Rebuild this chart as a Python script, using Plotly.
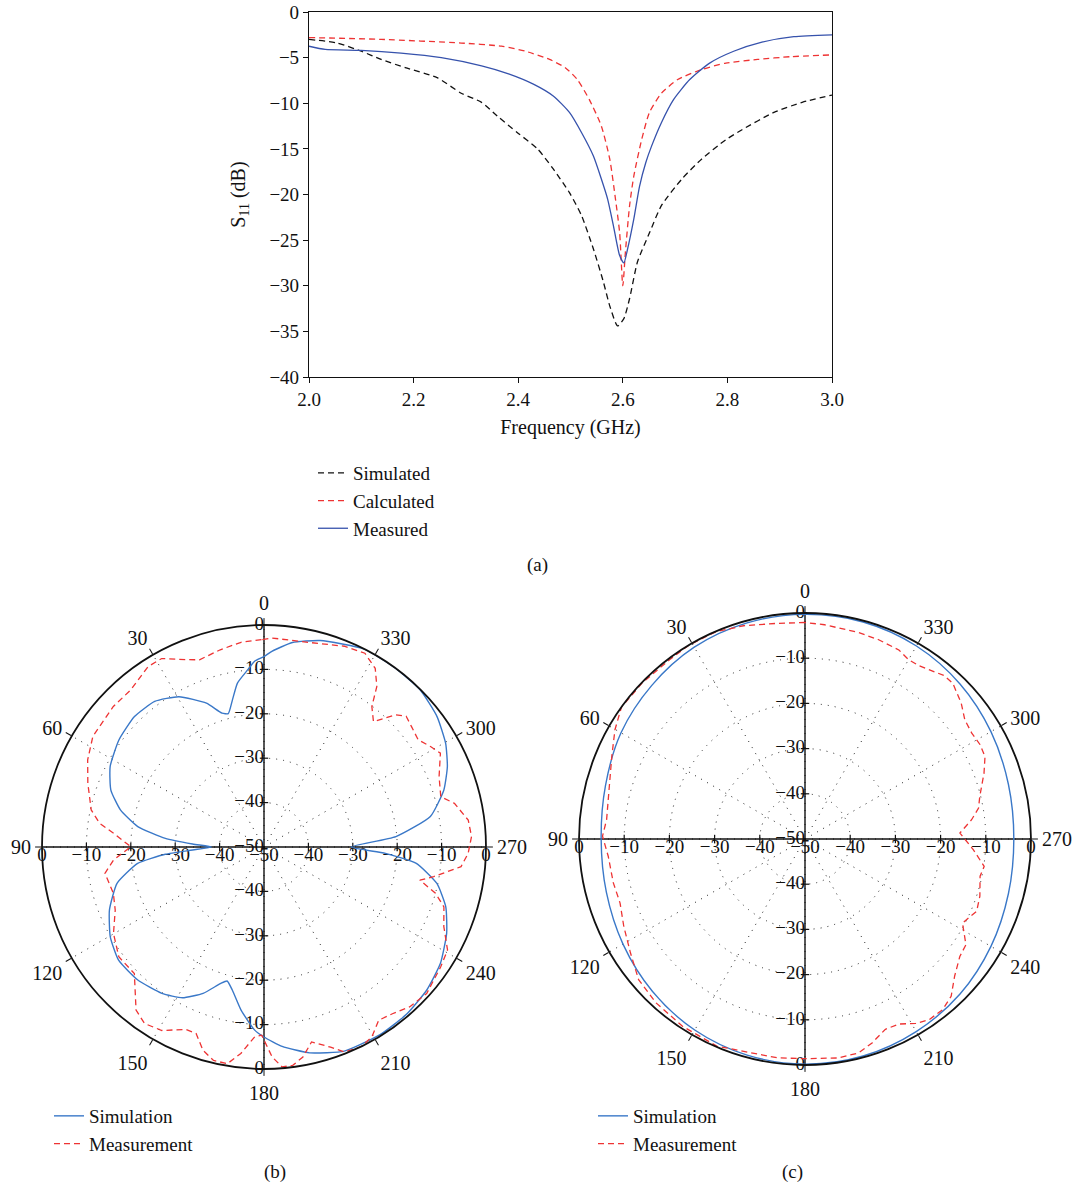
import plotly.graph_objects as go

# ---------------- (a) S11 vs frequency ----------------
sim_f = [2.0, 2.054, 2.1, 2.138, 2.184, 2.245, 2.291, 2.33, 2.36, 2.398, 2.437, 2.467, 2.498, 2.521,
         2.544, 2.563, 2.575, 2.59, 2.602, 2.613, 2.628, 2.651, 2.674, 2.713, 2.751, 2.797, 2.828,
         2.889, 2.943, 3.0]
sim_db = [-3.0, -3.4, -4.3, -5.2, -6.1, -7.2, -8.9, -9.9, -11.4, -13.2, -15.0, -17.2, -19.8, -22.3,
          -26.0, -29.6, -32.2, -34.4, -33.6, -31.4, -27.4, -24.2, -21.2, -18.3, -16.1, -14.0, -12.9,
          -11.0, -9.9, -9.1]

calc_f = [2.0, 2.138, 2.291, 2.368, 2.414, 2.46, 2.49, 2.513, 2.536, 2.559, 2.575, 2.586, 2.594, 2.6,
          2.605, 2.613, 2.621, 2.636, 2.651, 2.674, 2.705, 2.751, 2.797, 2.858, 2.92, 3.0]
calc_db = [-2.8, -3.0, -3.4, -3.75, -4.3, -5.2, -6.1, -7.4, -9.6, -12.5, -16.1, -20.5, -24.2, -30.0,
           -26.3, -21.2, -18.0, -14.0, -11.0, -8.9, -7.4, -6.3, -5.6, -5.2, -4.9, -4.7]

meas_f = [2.0, 2.031, 2.1, 2.176, 2.253, 2.33, 2.383, 2.429, 2.467, 2.498, 2.521, 2.544, 2.559, 2.571,
          2.582, 2.594, 2.602, 2.609, 2.621, 2.632, 2.644, 2.655, 2.674, 2.697, 2.728, 2.766, 2.812,
          2.866, 2.927, 3.0]
meas_db = [-3.75, -4.1, -4.2, -4.5, -5.0, -5.9, -6.8, -7.9, -9.2, -11.0, -13.2, -15.8, -18.3, -20.5,
           -23.4, -26.7, -27.5, -26.0, -22.7, -19.1, -16.5, -14.7, -12.1, -9.6, -7.4, -5.6, -4.3,
           -3.3, -2.7, -2.5]

x_ticks = [2.0, 2.2, 2.4, 2.6, 2.8, 3.0]
y_ticks = [0, -5, -10, -15, -20, -25, -30, -35, -40]

# ---------------- (b) radiation pattern ----------------
b_sim_theta = [0, 2.9, 5.2, 9.2, 12.1, 15.0, 17.4, 21.8, 29.5, 36.9, 44.8, 53.6, 62.4, 69.6, 75.5,
               80.8, 85.0, 87.6, 90, 92.4, 94.2, 97.4, 103.9, 112.2, 120.3, 127.9, 136.5, 145.1,
               151.6, 157.4, 162.3, 164.6, 167.5, 172, 177.1, 180, 185.2, 192.5, 201.5, 211.6,
               220.5, 228.7, 236.6, 244.7, 251.8, 258.1, 263.9, 267, 270, 274.5, 280.4, 287.6,
               293.7, 299.7, 307, 315.2, 323.9, 333.1, 344.8, 352.1, 357.7, 360]
b_sim_r = [-7.1, -8.1, -9.9, -12.6, -16.1, -18.9, -18.4, -15.1, -11.1, -9.0, -8.6, -9.4, -10.9,
           -13.2, -16.6, -21.2, -27.7, -33.9, -38.2, -33.9, -27.7, -21.3, -15.9, -12.4, -9.9, -8.5,
           -8.7, -9.8, -11.4, -14.3, -17.7, -18.7, -17.0, -12.9, -8.7, -7.2, -4.9, -2.5, -0.6,
           -0.3, -0.5, -1.2, -2.4, -4.5, -6.9, -10.2, -15.5, -22.6, -30.4, -20.2, -11.9, -7.5,
           -4.9, -2.9, -1.2, -0.1, 0.0, 0.0, -1.8, -3.5, -5.9, -7.1]

b_meas_theta = [0.7, 6.4, 12.5, 19.0, 22.6, 28.5, 32.7, 40.3, 47.0, 57.1, 63.7, 70.1, 77.9, 81.8,
                84.8, 89.9, 94.9, 99.4, 107.1, 113.0, 119.9, 127.1, 134.3, 141.9, 145.9, 150.9,
                156.8, 160.0, 163.3, 166.7, 170.4, 173.6, 177.2, 179.3, 182.2, 184.7, 187.5, 190.5,
                193.7, 198.4, 201.4, 206.0, 209.6, 213.5, 217.6, 222.3, 228.0, 235.8, 240.7, 246.1,
                251.6, 254.9, 258.0, 260.1, 264.3, 268.2, 272.9, 277.5, 282.9, 285.9, 291.9, 298.0,
                301.1, 304.8, 309.3, 312.6, 315.1, 318.9, 322.5, 324.9, 328.1, 332.5, 338.2, 347.4,
                357.8, 360.7]
b_meas_r = [-3.3, -3.6, -4.5, -5.4, -4.3, -1.7, -1.7, -3.6, -3.6, -4.1, -5.7, -7.8, -10.2, -12.6,
            -16.0, -20.0, -16.0, -13.7, -14.5, -13.6, -10.9, -9.0, -9.2, -3.3, -2.0, -2.7, -5.3,
            -5.3, -2.2, -0.6, -0.5, -3.2, -7.2, -7.6, -2.7, -0.3, -0.4, -1.9, -4.8, -2.5, -0.4,
            0.0, -0.8, -3.2, -2.6, -1.3, -0.7, -1.9, -2.6, -5.7, -7.3, -10.0, -14.1, -11.2, -5.4,
            -4.0, -3.2, -3.6, -6.0, -8.6, -7.5, -5.0, -6.2, -7.7, -7.1, -6.5, -8.0, -12.5, -10.1,
            -5.8, -2.6, -0.8, -1.3, -2.8, -2.9, -3.3]

# ---------------- (c) radiation pattern ----------------
c_sim_theta = [0, 15, 30, 45, 60, 75, 90, 105, 120, 135, 150, 165, 180, 195, 210, 225, 240, 255,
               270, 285, 300, 315, 330, 345, 360]
c_sim_r = [-0.3, -0.5, -1.0, -2.0, -3.0, -4.3, -4.9, -4.5, -3.5, -2.3, -1.2, -0.5, -0.2, -0.3,
           -0.8, -1.5, -2.5, -3.4, -3.8, -3.4, -2.5, -1.5, -0.7, -0.3, -0.3]

c_meas_theta = [0, 7.3, 16.1, 23.1, 30.8, 37.1, 46.2, 54.3, 60.1, 66.8, 75.9, 84.4, 89.2, 95.0,
                102.9, 109.1, 115.7, 123.1, 130.2, 137.7, 146.8, 156.9, 165.6, 172.8, 180, 188.6,
                194.0, 198.2, 202.9, 206.9, 211.0, 214.5, 218.9, 222.9, 227.5, 232.8, 236.7, 241.9,
                247.2, 251.9, 258.0, 261.3, 266.4, 272.2, 276.6, 280.1, 283.7, 290.2, 294.6, 298.3,
                302.4, 306.7, 311.0, 316.5, 319.5, 326.6, 329.9, 333.6, 339.7, 345.5, 354.8, 360]
c_meas_r = [-2.1, -1.9, -0.9, -0.1, 0.0, -0.3, -0.1, 0.0, -1.5, -3.5, -5.3, -5.9, -5.2, -6.3, -6.5,
            -6.7, -5.5, -3.9, -1.8, -1.0, -0.5, -0.2, -1.2, -1.2, -1.4, -1.0, -1.2, -2.5, -4.3,
            -4.1, -2.4, -1.5, -1.5, -2.5, -5.1, -7.0, -7.4, -10.5, -8.8, -9.3, -10.4, -9.9,
            -12.7, -15.7, -12.9, -11.0, -10.2, -7.8, -6.2, -6.0, -6.3, -5.9, -4.2, -2.5, -2.5,
            -4.1, -4.2, -3.3, -3.0, -2.8, -2.4, -2.1]

angle_ticks = [0, 30, 60, 90, 120, 150, 180, 210, 240, 270, 300, 330]
radial_levels = [0, -10, -20, -30, -40, -50]
radial_labels = ["0", "\u221210", "\u221220", "\u221230", "\u221240", "\u221250"]

# ---------------- styling ----------------
FONT = "Liberation Serif, 'Times New Roman', serif"
BLACK = "#111111"
RED = "#ee3333"
BLUE_A = "#3652ac"
BLUE_P = "#3a78c8"
W, H = 1073, 1198
DOT = "1px,6px"


def px_dom_x(a, b):
    return [a / W, b / W]


def px_dom_y(top, bottom):
    return [1 - bottom / H, 1 - top / H]


def px_x(x):
    return x / W


def px_y(y):
    return 1 - y / H


fig = go.Figure()

# (a)
fig.add_trace(go.Scatter(x=sim_f, y=sim_db, mode="lines", name="Simulated",
                         line=dict(color=BLACK, width=1.3, dash="6px,4px", shape="spline",
                                   smoothing=0.6),
                         xaxis="x", yaxis="y", legend="legend"))
fig.add_trace(go.Scatter(x=calc_f, y=calc_db, mode="lines", name="Calculated",
                         line=dict(color=RED, width=1.3, dash="6px,4px", shape="spline",
                                   smoothing=0.6),
                         xaxis="x", yaxis="y", legend="legend"))
fig.add_trace(go.Scatter(x=meas_f, y=meas_db, mode="lines", name="Measured",
                         line=dict(color=BLUE_A, width=1.3, shape="spline", smoothing=0.6),
                         xaxis="x", yaxis="y", legend="legend"))


def add_polar_frame(subplot):
    # solid cross lines
    fig.add_trace(go.Scatterpolar(r=[0, -50, 0], theta=[90, 90, 270], mode="lines",
                                  line=dict(color=BLACK, width=1.4), subplot=subplot,
                                  showlegend=False, hoverinfo="skip"))
    fig.add_trace(go.Scatterpolar(r=[0, -50, 0], theta=[0, 0, 180], mode="lines",
                                  line=dict(color=BLACK, width=1.4), subplot=subplot,
                                  showlegend=False, hoverinfo="skip"))
    lv = radial_levels[1:5]
    # tick marks on cross
    fig.add_trace(go.Scatterpolar(r=lv + lv, theta=[90] * 4 + [270] * 4, mode="markers",
                                  marker=dict(symbol="line-ns", size=6,
                                              line=dict(color=BLACK, width=1.2)),
                                  subplot=subplot, showlegend=False, hoverinfo="skip"))
    fig.add_trace(go.Scatterpolar(r=lv + lv, theta=[0] * 4 + [180] * 4, mode="markers",
                                  marker=dict(symbol="line-ew", size=6,
                                              line=dict(color=BLACK, width=1.2)),
                                  subplot=subplot, showlegend=False, hoverinfo="skip"))
    # labels along horizontal line (below)
    fig.add_trace(go.Scatterpolar(r=radial_levels + radial_levels[:-1][::-1],
                                  theta=[90] * 6 + [270] * 5,
                                  text=radial_labels + radial_labels[:-1][::-1],
                                  mode="text", textposition="bottom center",
                                  textfont=dict(family=FONT, size=19, color=BLACK),
                                  subplot=subplot, showlegend=False, hoverinfo="skip"))
    # labels along vertical line (left)
    fig.add_trace(go.Scatterpolar(r=radial_levels + radial_levels[:-1][::-1],
                                  theta=[0] * 6 + [180] * 5,
                                  text=radial_labels + radial_labels[:-1][::-1],
                                  mode="text", textposition="middle left",
                                  textfont=dict(family=FONT, size=19, color=BLACK),
                                  subplot=subplot, showlegend=False, hoverinfo="skip"))


add_polar_frame("polar")
fig.add_trace(go.Scatterpolar(r=b_sim_r, theta=b_sim_theta, mode="lines", name="Simulation",
                              line=dict(color=BLUE_P, width=1.4, shape="spline", smoothing=0.5),
                              subplot="polar", legend="legend2"))
fig.add_trace(go.Scatterpolar(r=b_meas_r, theta=b_meas_theta, mode="lines", name="Measurement",
                              line=dict(color=RED, width=1.3, dash="6px,4px"), subplot="polar",
                              legend="legend2"))

add_polar_frame("polar2")
fig.add_trace(go.Scatterpolar(r=c_sim_r, theta=c_sim_theta, mode="lines", name="Simulation",
                              line=dict(color=BLUE_P, width=1.4, shape="spline"),
                              subplot="polar2", legend="legend3"))
fig.add_trace(go.Scatterpolar(r=c_meas_r, theta=c_meas_theta, mode="lines", name="Measurement",
                              line=dict(color=RED, width=1.3, dash="6px,4px"), subplot="polar2",
                              legend="legend3"))

tickfont = dict(family=FONT, size=19, color=BLACK)


def polar_layout(dx, dy):
    return dict(
        domain=dict(x=dx, y=dy),
        bgcolor="white",
        angularaxis=dict(rotation=90, direction="counterclockwise", tickmode="array",
                         tickvals=angle_ticks, ticktext=[str(a) for a in angle_ticks],
                         showline=True, linecolor=BLACK, linewidth=1.8, ticks="outside",
                         ticklen=6, tickcolor=BLACK, tickwidth=1.3, showgrid=True,
                         gridcolor="#222222", griddash=DOT, gridwidth=1.2,
                         tickfont=dict(family=FONT, size=20, color=BLACK)),
        radialaxis=dict(range=[-50, 0], tickmode="array", tickvals=[-40, -30, -20, -10],
                        showticklabels=False, ticks="", showline=False, showgrid=True,
                        gridcolor="#222222", griddash=DOT, gridwidth=1.2),
    )


legfont = dict(family=FONT, size=19, color=BLACK)

fig.update_layout(
    width=W, height=H, autosize=False,
    margin=dict(l=0, r=0, t=0, b=0, autoexpand=False),
    paper_bgcolor="white", plot_bgcolor="white",
    font=dict(family=FONT, size=19, color=BLACK),
    xaxis=dict(domain=px_dom_x(309, 832), range=[2.0, 3.0], tickmode="array", tickvals=x_ticks,
               ticktext=[f"{v:.1f}" for v in x_ticks], showline=True, mirror=True,
               linecolor=BLACK, linewidth=1.2, ticks="outside", ticklen=5, tickcolor=BLACK,
               showgrid=False, zeroline=False, tickfont=tickfont, automargin=False,
               ticklabeloverflow="allow",
               title=dict(text="Frequency (GHz)", font=dict(family=FONT, size=20, color=BLACK),
                          standoff=11),
               anchor="y"),
    yaxis=dict(domain=px_dom_y(12, 377), range=[-40, 0], tickmode="array", tickvals=y_ticks,
               ticktext=["0"] + ["\u2212" + str(-v) for v in y_ticks[1:]], showline=True,
               mirror=True, linecolor=BLACK, linewidth=1.2, ticks="outside", ticklen=5,
               tickcolor=BLACK, showgrid=False, zeroline=False, tickfont=tickfont,
               automargin=False, ticklabeloverflow="allow",
               title=dict(text="S<sub>11</sub> (dB)", font=dict(family=FONT, size=20, color=BLACK),
                          standoff=18),
               anchor="x"),
    polar=polar_layout(px_dom_x(42, 486), px_dom_y(625, 1069)),
    polar2=polar_layout(px_dom_x(579, 1031), px_dom_y(613, 1065)),
    legend=dict(x=px_x(313), y=px_y(454), xanchor="left", yanchor="top", font=legfont,
                bgcolor="rgba(0,0,0,0)", tracegroupgap=0, itemwidth=30),
    legend2=dict(x=px_x(49), y=px_y(1097), xanchor="left", yanchor="top", font=legfont,
                 bgcolor="rgba(0,0,0,0)", tracegroupgap=0, itemwidth=30),
    legend3=dict(x=px_x(593), y=px_y(1097), xanchor="left", yanchor="top", font=legfont,
                 bgcolor="rgba(0,0,0,0)", tracegroupgap=0, itemwidth=30),
    annotations=[
        dict(text="(a)", x=px_x(537), y=px_y(565), xref="paper", yref="paper", showarrow=False,
             font=dict(family=FONT, size=19, color=BLACK)),
        dict(text="(b)", x=px_x(262), y=px_y(1185), xref="paper", yref="paper", showarrow=False,
             font=dict(family=FONT, size=19, color=BLACK)),
        dict(text="(c)", x=px_x(805), y=px_y(1185), xref="paper", yref="paper", showarrow=False,
             font=dict(family=FONT, size=19, color=BLACK)),
    ],
)

# remove the default page margin so the figure sits at the window's top-left corner
page_css = ("document.body.style.margin='0px';"
            "document.body.style.overflow='hidden';"
            "document.documentElement.style.overflow='hidden';")

fig.write_html("out.html", post_script=page_css, config={"displayModeBar": False})
